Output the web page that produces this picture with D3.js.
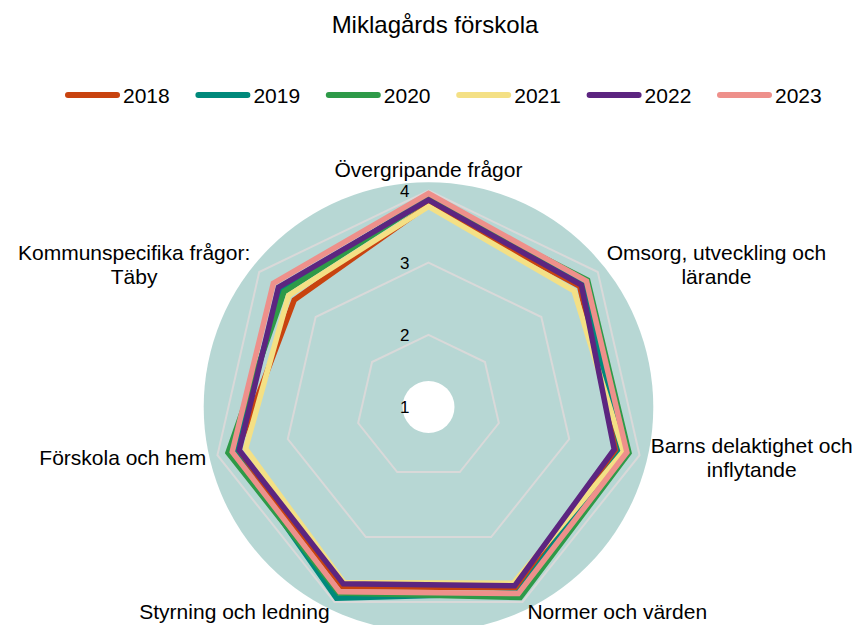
<!DOCTYPE html>
<html>
<head>
<meta charset="utf-8">
<script src="https://cdn.jsdelivr.net/npm/d3@7"></script>
<style>
    body { margin: 0; background: #fff; }
    svg text { font-family: "Liberation Sans", Arial, sans-serif; fill: #000; }
</style>
</head>
<body>
<svg id="chart" width="858" height="625"></svg>
<script>
var title = 'Miklagårds förskola';

var axes = [
    ['Övergripande frågor'],
    ['Omsorg, utveckling och', 'lärande'],
    ['Barns delaktighet och', 'inflytande'],
    ['Normer och värden'],
    ['Styrning och ledning'],
    ['Förskola och hem'],
    ['Kommunspecifika frågor:', 'Täby']
];

var years = ['2018', '2019', '2020', '2021', '2022', '2023'];
var colors = ['#c8430f', '#00897b', '#2e9a48', '#f4e085', '#5c2580', '#ee908b'];

// values per axis, same order as axes
var v2018 = [3.80, 3.68, 3.68, 3.78, 3.76, 3.72, 3.38];
var v2019 = [3.90, 3.76, 3.74, 3.86, 3.94, 3.77, 3.61];
var v2020 = [3.88, 3.82, 3.85, 3.93, 3.86, 3.85, 3.56];
var v2021 = [3.78, 3.58, 3.77, 3.71, 3.70, 3.60, 3.48];
var v2022 = [3.87, 3.71, 3.64, 3.75, 3.72, 3.69, 3.66];
var v2023 = [3.96, 3.80, 3.82, 3.87, 3.84, 3.79, 3.75];
var series = [v2018, v2019, v2020, v2021, v2022, v2023];

var ticks = [1, 2, 3, 4];

/** Radar chart */
class Radar {
    constructor() {
        this.svg = d3.select('#chart');
        this.cx = 428.5;
        this.cy = 407;
        this.r = d3.scaleLinear().domain([1, 4]).range([0, 216.5]);
        this.angle = d3.scaleLinear().domain([0, axes.length]).range([0, 2 * Math.PI]);
    }

    point(i, v) {
        var a = this.angle(i);
        var rr = this.r(v);
        return [this.cx + rr * Math.sin(a), this.cy - rr * Math.cos(a)];
    }

    drawTitle() {
        this.svg.append('text')
            .attr('x', 435)
            .attr('y', 33)
            .attr('text-anchor', 'middle')
            .style('font-size', '24px')
            .text(title);
    }

    drawLegend() {
        var x = d3.scaleLinear().domain([0, 1]).range([65, 195.4]);
        var g = this.svg.append('g');
        var items = g.selectAll('.item')
            .data(years)
            .enter()
            .append('g')
            .attr('transform', function (d, i) { return 'translate(' + x(i) + ',95)'; });
        items.append('line')
            .attr('x1', 3).attr('x2', 52)
            .attr('y1', 0).attr('y2', 0)
            .attr('stroke', function (d, i) { return colors[i]; })
            .attr('stroke-width', 6)
            .attr('stroke-linecap', 'round');
        items.append('text')
            .attr('x', 58)
            .attr('y', 7.5)
            .style('font-size', '21px')
            .text(function (d) { return d; });
    }

    drawGrid() {
        var self = this;
        this.svg.append('circle')
            .attr('cx', this.cx).attr('cy', this.cy)
            .attr('r', this.r(4.115))
            .attr('fill', '#b7d7d4');

        var line = d3.line().curve(d3.curveLinearClosed);
        this.svg.selectAll('.grid')
            .data(ticks.slice(1))
            .enter()
            .append('path')
            .attr('class', 'grid')
            .attr('d', function (t) {
                return line(axes.map(function (a, i) { return self.point(i, t); }));
            })
            .attr('fill', 'none')
            .attr('stroke', '#d9d9d9')
            .attr('stroke-width', 2);
    }

    drawSeries() {
        var self = this;
        var line = d3.line().curve(d3.curveLinearClosed);
        this.svg.selectAll('.serie')
            .data(series)
            .enter()
            .append('path')
            .attr('class', 'serie')
            .attr('d', function (vals) {
                return line(vals.map(function (v, i) { return self.point(i, v); }));
            })
            .attr('fill', 'none')
            .attr('stroke', function (d, i) { return colors[i]; })
            .attr('stroke-width', 5.5)
            .attr('stroke-linejoin', 'miter');

        // white hole in the middle
        this.svg.append('circle')
            .attr('cx', this.cx).attr('cy', this.cy)
            .attr('r', 26)
            .attr('fill', '#fff');
    }

    drawTicks() {
        var self = this;
        this.svg.selectAll('.tick')
            .data(ticks)
            .enter()
            .append('text')
            .attr('class', 'tick')
            .attr('x', this.cx - 19)
            .attr('y', function (t) { return self.cy - self.r(t) + 6; })
            .attr('text-anchor', 'end')
            .style('font-size', '17px')
            .text(function (t) { return t; });
    }

    drawLabels() {
        var self = this;
        var lh = 24;
        axes.forEach(function (lines, i) {
            var a = self.angle(i);
            var s = Math.sin(a), c = Math.cos(a);
            var p = self.point(i, 1 + 228 / 72.17);
            var anchor = s > 0.1 ? 'start' : (s < -0.1 ? 'end' : 'middle');
            var y0;
            if (c > 0.9) {
                y0 = p[1] - 2 - (lines.length - 1) * lh;
            } else {
                y0 = p[1] + 7 - (lines.length - 1) * lh / 2;
            }
            var t = self.svg.append('text')
                .attr('text-anchor', anchor)
                .style('font-size', '21px');
            lines.forEach(function (l, k) {
                t.append('tspan')
                    .attr('x', p[0])
                    .attr('y', y0 + k * lh)
                    .text(l);
            });
            // center the lines of a block relative to each other
            if (lines.length > 1) {
                var spans = t.selectAll('tspan').nodes();
                var widths = spans.map(function (n) { return n.getComputedTextLength(); });
                var maxW = d3.max(widths);
                var cxBlock = anchor === 'start' ? p[0] + maxW / 2 : p[0] - maxW / 2;
                t.attr('text-anchor', 'middle');
                t.selectAll('tspan').attr('x', cxBlock);
            }
        });
    }

    draw() {
        this.drawTitle();
        this.drawLegend();
        this.drawGrid();
        this.drawSeries();
        this.drawTicks();
        this.drawLabels();
    }
}

var chart = new Radar();
chart.draw();
</script>
</body>
</html>
